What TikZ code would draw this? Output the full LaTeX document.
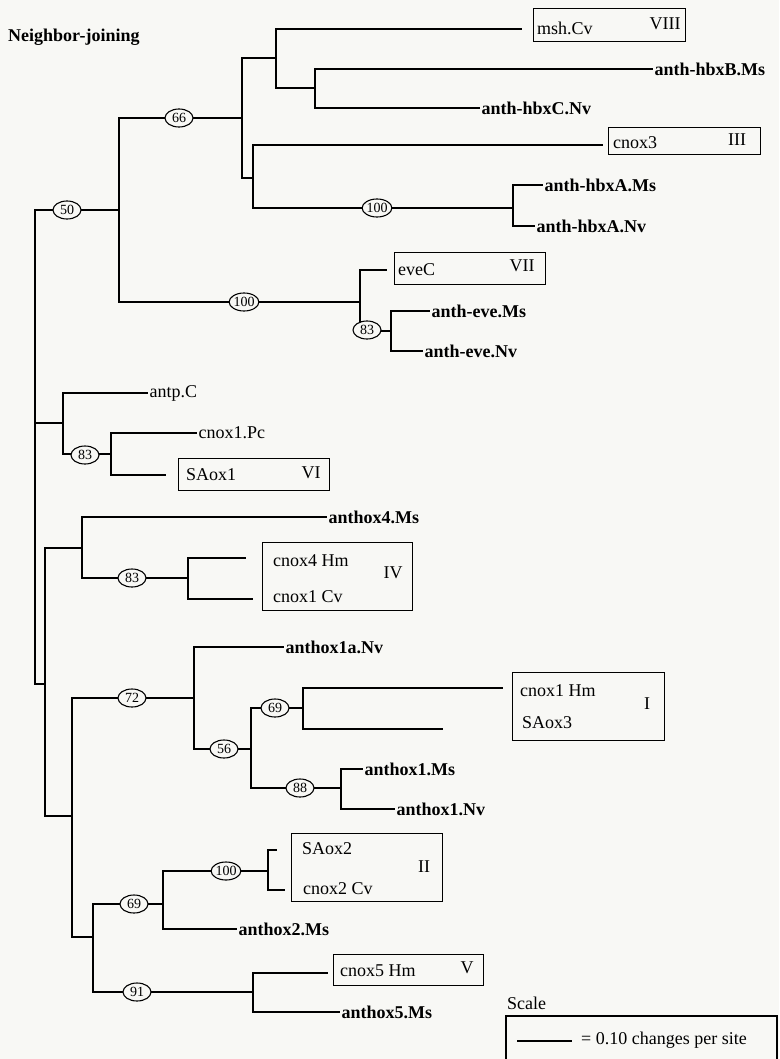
\documentclass[tikz,border=0pt]{standalone}
\usepackage{fontspec}
\setmainfont{Liberation Serif}
\usetikzlibrary{shapes.geometric}
\definecolor{paper}{RGB}{248,248,245}
\begin{document}
\begin{tikzpicture}[x=1pt,y=-1pt,
  br/.style={line width=1.2pt},
  leafb/.style={anchor=west,inner sep=1.5pt,font=\fontsize{18}{20}\selectfont\bfseries},
  leafr/.style={anchor=west,inner sep=1.5pt,font=\fontsize{18}{20}\selectfont},
  boxtxt/.style={anchor=west,inner sep=0pt,font=\fontsize{18}{20}\selectfont},
  roman/.style={inner sep=0pt,font=\fontsize{18}{20}\selectfont},
  clade/.style={draw,line width=1.1pt,anchor=north west,inner sep=0pt},
  boot/.style={ellipse,draw,line width=1.1pt,fill=paper,minimum width=28pt,minimum height=18pt,inner sep=0pt,font=\fontsize{14}{14}\selectfont}]
\fill[paper] (0,0) rectangle (779,1059);
\useasboundingbox (0,0) rectangle (779,1059);

\node[anchor=west,inner sep=0pt,font=\fontsize{18}{20}\selectfont\bfseries] (title) at (8,37) {Neighbor-joining};

% internal junctions
\coordinate (R) at (35,423);
\coordinate (P) at (119,210);
\coordinate (T) at (242,118);
\coordinate (U) at (276,58);
\coordinate (V) at (315,88);
\coordinate (W) at (253,178);
\coordinate (X) at (513,208);
\coordinate (Q) at (360,302);
\coordinate (S) at (391,331);
\coordinate (N) at (63,423);
\coordinate (O) at (111,454);
\coordinate (B) at (45,684);
\coordinate (L) at (82,548);
\coordinate (M) at (188,578);
\coordinate (C) at (72,816);
\coordinate (H) at (194,698);
\coordinate (I) at (251,749);
\coordinate (J) at (303,708);
\coordinate (K) at (341,788);
\coordinate (D) at (93,937);
\coordinate (E) at (163,904);
\coordinate (F) at (268,871);
\coordinate (G) at (253,992);

% clade boxes
\node[clade,minimum width=152pt,minimum height=33pt] (bVIII) at (533,8) {};
\node[boxtxt] (mshCv) at (537,28) {msh.Cv};
\node[roman] (rVIII) at (665,24) {VIII};
\node[clade,minimum width=152pt,minimum height=27pt] (bIII) at (608,127) {};
\node[boxtxt] (cnox3) at (613,143) {cnox3};
\node[roman] (rIII) at (737,140) {III};
\node[clade,minimum width=151pt,minimum height=32pt] (bVII) at (394,252) {};
\node[boxtxt] (eveC) at (398,270) {eveC};
\node[roman] (rVII) at (522,266) {VII};
\node[clade,minimum width=151pt,minimum height=32pt] (bVI) at (178,458) {};
\node[boxtxt] (SAox1) at (186,475) {SAox1};
\node[roman] (rVI) at (311,473) {VI};
\node[clade,minimum width=150pt,minimum height=68pt] (bIV) at (262,542) {};
\node[boxtxt] (cnox4Hm) at (273,561) {cnox4 Hm};
\node[boxtxt] (cnox1Cv) at (273,597) {cnox1 Cv};
\node[roman] (rIV) at (393,573) {IV};
\node[clade,minimum width=152pt,minimum height=68pt] (bI) at (512,672) {};
\node[boxtxt] (cnox1Hm) at (520,691) {cnox1 Hm};
\node[boxtxt] (SAox3) at (522,723) {SAox3};
\node[roman] (rI) at (647,704) {I};
\node[clade,minimum width=151pt,minimum height=68pt] (bII) at (291,833) {};
\node[boxtxt] (SAox2) at (302,849) {SAox2};
\node[boxtxt] (cnox2Cv) at (303,889) {cnox2 Cv};
\node[roman] (rII) at (424,867) {II};
\node[clade,minimum width=150pt,minimum height=31pt] (bV) at (333,954) {};
\node[boxtxt] (cnox5Hm) at (340,971) {cnox5 Hm};
\node[roman] (rV) at (467,968) {V};

% branch ends that stop short of a box
\coordinate (eVIII) at (522,29);
\coordinate (eIII) at (603,145);
\coordinate (eVII) at (387,270);
\coordinate (eVI) at (166,475);
\coordinate (eIVa) at (246,558);
\coordinate (eIVb) at (253,599);
\coordinate (eIa) at (503,688);
\coordinate (eIb) at (443,729);
\coordinate (eIIa) at (277,850);
\coordinate (eIIb) at (285,890);
\coordinate (eV) at (328,973);

% leaf labels
\node[leafb] (hbxB) at (653,69) {anth-hbxB.Ms};
\node[leafb] (hbxC) at (480,108) {anth-hbxC.Nv};
\node[leafb] (hbxAMs) at (543,185) {anth-hbxA.Ms};
\node[leafb] (hbxANv) at (535,226) {anth-hbxA.Nv};
\node[leafb] (eveMs) at (430,311) {anth-eve.Ms};
\node[leafb] (eveNv) at (423,351) {anth-eve.Nv};
\node[leafr] (antpC) at (148,393) {antp.C};
\node[leafr] (cnox1Pc) at (197,433) {cnox1.Pc};
\node[leafb] (ax4) at (327,517) {anthox4.Ms};
\node[leafb] (ax1a) at (284,647) {anthox1a.Nv};
\node[leafb] (ax1Ms) at (363,769) {anthox1.Ms};
\node[leafb] (ax1Nv) at (395,809) {anthox1.Nv};
\node[leafb] (ax2) at (237,929) {anthox2.Ms};
\node[leafb] (ax5) at (340,1012) {anthox5.Ms};

% branches
\draw[br] (R) |- (P);
\draw[br] (R) -- (N);
\draw[br] (R) |- (B);
\draw[br] (P) |- (T);
\draw[br] (P) |- (Q);
\draw[br] (T) |- (U);
\draw[br] (T) |- (W);
\draw[br] (U) |- (eVIII);
\draw[br] (U) |- (V);
\draw[br] (V) |- (hbxB.west);
\draw[br] (V) |- (hbxC.west);
\draw[br] (W) |- (eIII);
\draw[br] (W) |- (X);
\draw[br] (X) |- (hbxAMs.west);
\draw[br] (X) |- (hbxANv.west);
\draw[br] (Q) |- (eVII);
\draw[br] (Q) |- (S);
\draw[br] (S) |- (eveMs.west);
\draw[br] (S) |- (eveNv.west);
\draw[br] (N) |- (antpC.west);
\draw[br] (N) |- (O);
\draw[br] (O) |- (cnox1Pc.west);
\draw[br] (O) |- (eVI);
\draw[br] (B) |- (L);
\draw[br] (B) |- (C);
\draw[br] (L) |- (ax4.west);
\draw[br] (L) |- (M);
\draw[br] (M) |- (eIVa);
\draw[br] (M) |- (eIVb);
\draw[br] (C) |- (H);
\draw[br] (C) |- (D);
\draw[br] (H) |- (ax1a.west);
\draw[br] (H) |- (I);
\draw[br] (I) |- (J);
\draw[br] (I) |- (K);
\draw[br] (J) |- (eIa);
\draw[br] (J) |- (eIb);
\draw[br] (K) |- (ax1Ms.west);
\draw[br] (K) |- (ax1Nv.west);
\draw[br] (D) |- (E);
\draw[br] (D) |- (G);
\draw[br] (E) |- (F);
\draw[br] (E) |- (ax2.west);
\draw[br] (F) |- (eIIa);
\draw[br] (F) |- (eIIb);
\draw[br] (G) |- (eV);
\draw[br] (G) |- (ax5.west);

% bootstrap values
\node[boot] (b50) at (67,210) {50};
\node[boot] (b66) at (179,118) {66};
\node[boot] (b100a) at (377,208) {100};
\node[boot] (b100b) at (244,302) {100};
\node[boot] (b83a) at (367,330) {83};
\node[boot] (b83b) at (85,455) {83};
\node[boot] (b83c) at (132,578) {83};
\node[boot] (b72) at (132,698) {72};
\node[boot] (b69a) at (275,708) {69};
\node[boot] (b56) at (224,749) {56};
\node[boot] (b88) at (300,788) {88};
\node[boot] (b100c) at (226,871) {100};
\node[boot] (b69b) at (134,904) {69};
\node[boot] (b91) at (137,992) {91};

% scale
\node[anchor=west,inner sep=0pt,font=\fontsize{18}{20}\selectfont] (scl) at (507,1003) {Scale};
\draw[line width=1.1pt] (506,1059) -- (506,1016) -- (777,1016) -- (777,1059);
\coordinate (s1) at (517,1041);
\coordinate (s2) at (572,1041);
\draw[br] (s1) -- (s2);
\node[anchor=west,inner sep=0pt,font=\fontsize{18}{20}\selectfont] (scltxt) at (581,1040) {= 0.10 changes per site};
\end{tikzpicture}
\end{document}
